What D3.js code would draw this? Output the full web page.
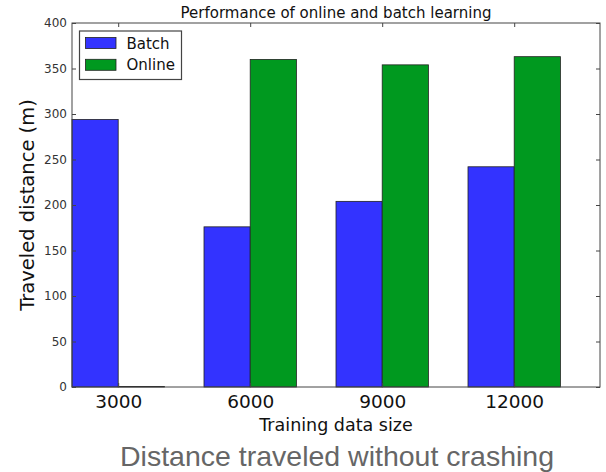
<!DOCTYPE html>
<html><head><meta charset="utf-8">
<script src="https://cdn.jsdelivr.net/npm/d3@7"></script>
<style>body{margin:0;background:#fff}svg{display:block}</style>
</head><body>
<svg id="c" width="606" height="472"></svg>
<script>
const categories = ["3000","6000","9000","12000"];
const batchValues = [294, 176, 204, 242];
const onlineValues = [0.6, 360, 354, 363];
const seriesNames = ["Batch","Online"];
const yTicks = [0,50,100,150,200,250,300,350,400];

const svg = d3.select("#c");
const L=72, R=600, T=23, B=387;
const barW = 0.35;
const x = d3.scaleLinear().domain([0,4]).range([L,R]);
const y = d3.scaleLinear().domain([0,400]).range([B,T]);
const colors = ["#3333ff","#00991f"];
const font = "DejaVu Sans";

const series = [batchValues, onlineValues];
series.forEach((vals,s)=>{
  svg.append("g").selectAll("rect").data(vals).join("rect")
    .attr("x",(d,i)=>x(i+s*barW))
    .attr("width",x(barW)-x(0))
    .attr("y",d=>y(d))
    .attr("height",d=>y(0)-y(d))
    .attr("fill",colors[s])
    .attr("stroke","#222").attr("stroke-width",0.8);
});

// frame
svg.append("rect").attr("x",L).attr("y",T).attr("width",R-L).attr("height",B-T)
  .attr("fill","none").attr("stroke","#444").attr("stroke-width",1);

// y axes
const yl = svg.append("g").attr("transform",`translate(${L},0)`)
  .call(d3.axisLeft(y).tickValues(yTicks).tickSize(-4).tickPadding(5));
const yr = svg.append("g").attr("transform",`translate(${R},0)`)
  .call(d3.axisRight(y).tickValues(yTicks).tickSize(-4).tickFormat(""));
const xt = categories.map((c,i)=>i+barW);
const xb = svg.append("g").attr("transform",`translate(0,${B})`)
  .call(d3.axisBottom(x).tickValues(xt).tickFormat((d,i)=>categories[i]).tickSize(-4).tickPadding(8));
const xtop = svg.append("g").attr("transform",`translate(0,${T})`)
  .call(d3.axisTop(x).tickValues(xt).tickFormat("").tickSize(-4));
[yl,yr,xb,xtop].forEach(g=>{
  g.select(".domain").remove();
  g.selectAll(".tick line").attr("stroke","#444");
});
yl.selectAll("text").attr("font-family",font).attr("font-size",12).attr("fill","#333");
xb.selectAll("text").attr("font-family",font).attr("font-size",18.5).attr("fill","#111");

// title and labels
svg.append("text").attr("x",(L+R)/2).attr("y",18).attr("text-anchor","middle")
  .attr("font-family",font).attr("font-size",15).attr("fill","#111")
  .text("Performance of online and batch learning");
svg.append("text").attr("x",(L+R)/2).attr("y",431).attr("text-anchor","middle")
  .attr("font-family",font).attr("font-size",17.5).attr("fill","#111")
  .text("Training data size");
svg.append("text").attr("transform",`translate(34,${(T+B)/2}) rotate(-90)`).attr("text-anchor","middle")
  .attr("font-family",font).attr("font-size",19.5).attr("fill","#111")
  .text("Traveled distance (m)");
svg.append("text").attr("x",337).attr("y",466).attr("text-anchor","middle")
  .attr("font-family","Liberation Sans").attr("font-size",28.5).attr("fill","#666")
  .text("Distance traveled without crashing");

// legend
const lg = svg.append("g");
lg.append("rect").attr("x",79.5).attr("y",31).attr("width",102).attr("height",48.5)
  .attr("fill","#fff").attr("stroke","#444").attr("stroke-width",1.2);
seriesNames.forEach((n,i)=>{
  lg.append("rect").attr("x",85.5).attr("y",37.5+i*21.8).attr("width",30.5).attr("height",11)
    .attr("fill",colors[i]).attr("stroke","#222").attr("stroke-width",0.8);
  lg.append("text").attr("x",126.5).attr("y",48.5+i*21.8)
    .attr("font-family",font).attr("font-size",15).attr("fill","#111").text(n);
});
</script>
</body></html>
